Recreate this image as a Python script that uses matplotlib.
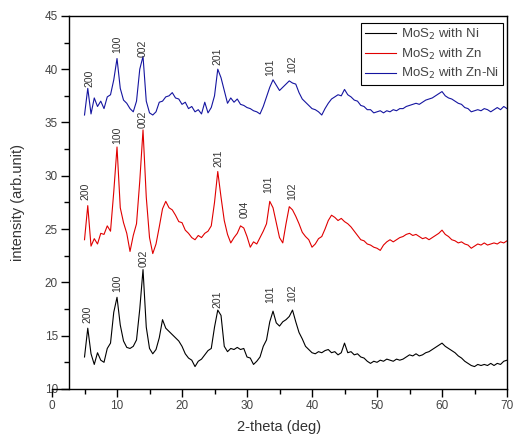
import matplotlib.pyplot as plt
import numpy as np

plt.rcParams['font.family'] = ['Liberation Sans', 'DejaVu Sans']

# 2-theta grid, 5 to 70 deg in 0.5 steps
two_theta = np.arange(5.0, 70.01, 0.5)

ni = [13.0, 15.7, 13.3, 12.3, 13.4, 12.7, 12.5, 13.8, 14.3, 17.2,
      18.6, 16.0, 14.5, 13.9, 13.8, 14.0, 14.6, 17.5, 21.2, 15.8,
      13.8, 13.3, 13.7, 14.8, 16.5, 15.7, 15.4, 15.1, 14.8, 14.5,
      14.0, 13.3, 12.9, 12.7, 12.1, 12.6, 12.8, 13.2, 13.6, 13.8,
      15.8, 17.4, 16.9, 14.0, 13.5, 13.8, 13.7, 13.9, 13.7, 13.8,
      13.0, 12.9, 12.3, 12.6, 13.0, 14.0, 14.6, 16.3, 17.3, 16.2,
      15.9, 16.3, 16.5, 16.8, 17.4, 16.3, 15.3, 14.7, 14.0, 13.7,
      13.4, 13.3, 13.5, 13.4, 13.6, 13.7, 13.4, 13.5, 13.2, 13.4,
      14.3, 13.4, 13.5, 13.2, 13.3, 13.0, 12.9, 12.6, 12.4, 12.6,
      12.5, 12.7, 12.6, 12.8, 12.7, 12.6, 12.8, 12.7, 12.8, 13.0,
      13.2, 13.1, 13.3, 13.1, 13.2, 13.4, 13.5, 13.7, 13.9, 14.1,
      14.3, 14.0, 13.8, 13.6, 13.4, 13.1, 12.9, 12.6, 12.4, 12.2,
      12.1, 12.3, 12.2, 12.3, 12.2, 12.4, 12.2, 12.4, 12.3, 12.6,
      12.7]

zn = [24.0, 27.2, 23.4, 24.1, 23.6, 24.6, 24.5, 25.3, 24.8, 28.5,
      32.7, 27.0, 25.6, 24.6, 22.9, 24.4, 25.5, 29.5, 34.3, 28.0,
      24.2, 22.7, 23.6, 25.2, 26.9, 27.6, 27.0, 26.8, 26.3, 25.7,
      25.6, 24.9, 24.6, 24.2, 24.0, 24.4, 24.2, 24.6, 24.8, 25.3,
      27.5, 30.4, 28.0, 25.8, 24.5, 23.7, 24.2, 24.6, 25.3, 25.1,
      24.3, 23.3, 23.8, 23.6, 24.2, 24.8, 25.5, 27.6, 27.0, 25.6,
      24.2, 23.7, 25.5, 27.1, 26.8, 26.2, 25.5, 24.7, 24.3, 24.0,
      23.3, 23.6, 24.1, 24.3, 25.0, 25.8, 26.3, 26.1, 25.8, 26.0,
      25.7, 25.5, 25.2, 24.8, 24.4, 24.0, 23.9, 23.6, 23.5, 23.3,
      23.2, 23.0, 23.5, 23.8, 24.0, 23.8, 24.0, 24.2, 24.3, 24.5,
      24.6, 24.4, 24.5, 24.3, 24.1, 24.2, 24.0, 24.2, 24.4, 24.6,
      24.9, 24.5, 24.3, 24.0, 23.9, 23.7, 23.8, 23.6, 23.5, 23.2,
      23.4, 23.6, 23.5, 23.7, 23.5, 23.6, 23.7, 23.6, 23.8, 23.7,
      23.9]

znni = [35.7, 38.2, 35.8, 37.3, 36.5, 37.0, 36.3, 37.4, 37.6, 39.0,
        41.0, 38.2, 37.1, 36.8, 36.3, 36.0, 37.0, 40.0, 41.2, 37.0,
        35.9, 35.7, 36.0, 36.9, 37.0, 37.4, 37.5, 37.8, 37.3, 37.2,
        36.7, 36.9, 36.3, 36.5, 36.0, 36.2, 35.8, 36.9, 35.9, 36.4,
        37.5, 40.0, 39.2, 38.0, 36.8, 37.3, 36.9, 37.2, 36.7, 36.6,
        36.4, 36.3, 36.1, 36.0, 35.8, 36.5, 37.4, 38.3, 39.0, 38.5,
        38.0, 38.3, 38.6, 38.9, 38.7, 38.6, 37.8, 37.2, 36.9, 36.6,
        36.3, 36.2, 36.0, 35.7, 36.3, 36.8, 37.2, 37.4, 37.6, 37.5,
        38.1, 37.6, 37.4, 37.1, 37.0, 36.6, 36.5, 36.2, 36.2, 35.9,
        36.0, 36.1, 35.9, 36.1, 36.0, 36.2, 36.1, 36.3, 36.3, 36.5,
        36.6, 36.7, 36.8, 36.7, 36.9, 37.1, 37.2, 37.3, 37.5, 37.7,
        37.9, 37.5, 37.3, 37.2, 37.0, 36.8, 36.7, 36.4, 36.3, 36.0,
        36.1, 36.2, 36.1, 36.3, 36.2, 36.0, 36.2, 36.4, 36.2, 36.5,
        36.3]

# peak labels (hkl, 2-theta, height of label base)
ni_peaks = [('200', 5.4, 16.2), ('100', 10.0, 19.1), ('002', 14.1, 21.4),
            ('201', 25.5, 17.6), ('101', 33.5, 18.1), ('102', 36.9, 18.2)]
zn_peaks = [('200', 5.2, 27.7), ('100', 10.0, 33.0), ('002', 14.0, 34.5),
            ('201', 25.6, 30.8), ('004', 29.7, 26.0), ('101', 33.3, 28.4),
            ('102', 36.9, 27.7)]
znni_peaks = [('200', 5.8, 38.3), ('100', 10.0, 41.5), ('002', 14.0, 41.1),
              ('201', 25.4, 40.4), ('101', 33.5, 39.4), ('102', 36.9, 39.6)]

fig = plt.figure(figsize=(5.15, 4.41), dpi=100)
ax = fig.add_axes([0.101, 0.118, 0.8835, 0.846])

ax.plot(two_theta, ni, color='black', lw=0.8, label='MoS$_2$ with Ni')
ax.plot(two_theta, zn, color='#e00000', lw=0.8, label='MoS$_2$ with Zn')
ax.plot(two_theta, znni, color='#1515a0', lw=0.8, label='MoS$_2$ with Zn-Ni')

for peaks in (ni_peaks, zn_peaks, znni_peaks):
    for txt, px, py in peaks:
        ax.text(px, py, txt, rotation=90, ha='center', va='bottom',
                fontsize=7.5, color='#333333')

ax.set_xlim(0, 70)
ax.set_ylim(10, 45)

# y axis sits a bit right of x=0, as in the original
ax.spines['left'].set_position(('data', 2.6))
ax.spines['top'].set_visible(False)
ax.plot([2.6, 70], [45, 45], color='black', lw=1.0, clip_on=False)
for s in ('left', 'bottom', 'right'):
    ax.spines[s].set_linewidth(1.0)

ax.set_xticks(np.arange(0, 71, 10))
ax.set_xticks(np.arange(5, 70, 10), minor=True)
ax.set_yticks(np.arange(10, 46, 5))
ax.set_yticks(np.arange(12.5, 45, 5), minor=True)
ax.tick_params(which='major', direction='out', length=6, width=1,
               labelsize=8.5, labelcolor='#444444', pad=2)
ax.tick_params(which='minor', direction='out', length=3.5, width=1)

ax.set_xlabel('2-theta (deg)', fontsize=10.5, color='#333333', labelpad=6)
ax.set_ylabel('intensity (arb.unit)', fontsize=10.5, color='#333333',
              labelpad=14)

leg = ax.legend(loc='upper right', bbox_to_anchor=(0.991, 0.981),
                borderaxespad=0, fancybox=False, framealpha=1,
                edgecolor='black', fontsize=9.5, handlelength=2.3,
                labelspacing=0.35, borderpad=0.3, handletextpad=0.4)
leg.get_frame().set_linewidth(0.8)
for t in leg.get_texts():
    t.set_color('#444444')

fig.savefig('out.png', dpi=100)
